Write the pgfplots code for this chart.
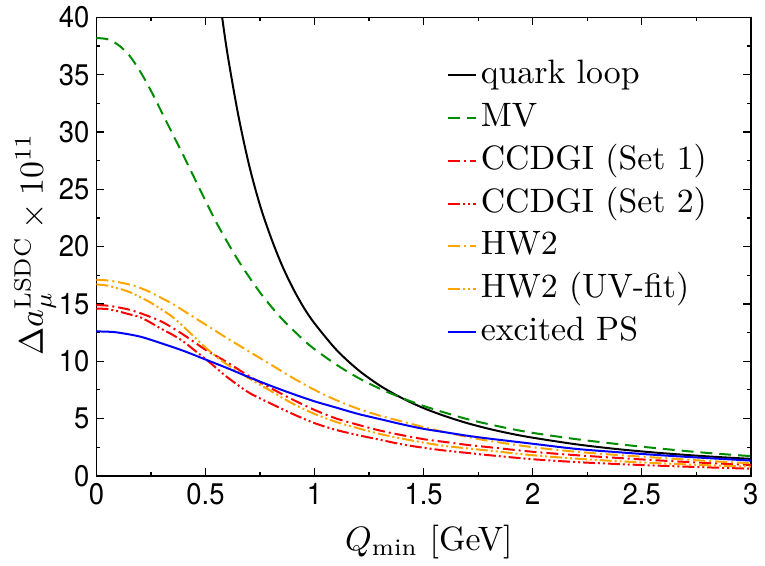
\documentclass[border=0pt]{standalone}
\usepackage{fontspec}
\usepackage{graphicx}
\usepackage{pgfplots}
\pgfplotsset{compat=1.18}
\newfontfamily\helv[FakeStretch=0.92]{TeX Gyre Heros}

\definecolor{mvgreen}{RGB}{0,140,0}
\definecolor{hworange}{RGB}{255,165,0}
\newcommand{\lbl}[1]{\scalebox{1.7}{#1}}

\begin{document}
\begin{tikzpicture}
\begin{axis}[
  scale only axis,
  width=329pt, height=230.5pt,
  xmin=0, xmax=3, ymin=0, ymax=40,
  xtick={0,0.5,...,3}, ytick={0,5,...,40},
  minor x tick num=1, minor y tick num=1,
  tick align=inside,
  major tick length=4pt, minor tick length=2pt,
  axis line style={line width=0.8pt},
  every tick/.style={black, line width=0.6pt},
  ticklabel style={font=\helv\fontsize{15}{17}\selectfont},
  /pgf/number format/assume math mode=true,
  xlabel={\lbl{$Q_{\min}$ [GeV]}},
  ylabel={\lbl{$\Delta a_\mu^{\mathrm{LSDC}}\times 10^{11}$}},
  xlabel style={at={(axis description cs:0.508,-0.145)}, anchor=center},
  ylabel style={at={(axis description cs:-0.094,0.505)}, anchor=center},
  legend cell align=left,
  legend style={at={(axis description cs:0.526,0.93)}, anchor=north west,
    draw=none, fill=none, row sep=0pt,
    nodes={text height=12pt, text depth=3.5pt, inner ysep=3pt}},
  legend image code/.code={\draw[#1] (0pt,0pt) -- (14pt,0pt);},
  every axis plot/.append style={line width=1pt, smooth},
]
% quark loop
\addplot[black] coordinates {
(0.57,40.9) (0.6,36.9) (0.65,31.5) (0.7,27.1) (0.75,23.6) (0.8,20.8)
(0.85,18.4) (0.9,16.4) (0.95,14.7) (1.0,13.3) (1.1,11.0) (1.2,9.24)
(1.3,7.87) (1.4,6.79) (1.5,5.91) (1.6,5.20) (1.7,4.60) (1.8,4.10)
(1.9,3.68) (2.0,3.33) (2.2,2.75) (2.4,2.31) (2.6,1.97) (2.8,1.70) (3.0,1.48)};
\addlegendentry{\lbl{quark loop}}
% MV
\addplot[mvgreen, dash pattern=on 6pt off 3.5pt] coordinates {
(0,38.2) (0.05,38.1) (0.1,37.6) (0.15,36.7) (0.2,35.3) (0.25,33.6)
(0.3,31.7) (0.35,29.8) (0.4,27.9) (0.45,25.95) (0.5,24.0) (0.55,22.1)
(0.6,20.4) (0.65,18.8) (0.7,17.35) (0.75,16.0) (0.8,14.8) (0.85,13.7)
(0.9,12.75) (0.95,11.85) (1.0,11.05) (1.1,9.7) (1.2,8.55) (1.3,7.6)
(1.4,6.8) (1.5,6.1) (1.6,5.5) (1.7,4.95) (1.8,4.5) (1.9,4.1)
(2.0,3.75) (2.2,3.2) (2.4,2.75) (2.6,2.35) (2.8,2.0) (3.0,1.72)};
\addlegendentry{\lbl{MV}}
% CCDGI Set 1
\addplot[red, dash pattern=on 6pt off 2pt on 1pt off 2pt] coordinates {
(0,14.9) (0.05,14.85) (0.1,14.7) (0.15,14.5) (0.2,14.2) (0.25,13.85)
(0.3,13.45) (0.35,12.9) (0.4,12.3) (0.45,11.65) (0.5,11.0) (0.55,10.45)
(0.6,9.9) (0.7,8.7) (0.8,7.65) (0.9,6.65) (1.0,5.75) (1.1,5.0)
(1.2,4.45) (1.3,3.95) (1.4,3.55) (1.5,3.2) (1.6,2.95) (1.7,2.7)
(1.8,2.5) (2.0,2.1) (2.2,1.8) (2.4,1.55) (2.6,1.32) (2.8,1.12) (3.0,0.95)};
\addlegendentry{\lbl{CCDGI (Set 1)}}
% CCDGI Set 2
\addplot[red, dash pattern=on 6pt off 1.5pt on 1pt off 1.5pt on 1pt off 1.5pt] coordinates {
(0,14.6) (0.05,14.55) (0.1,14.35) (0.15,14.1) (0.2,13.85) (0.25,13.35)
(0.3,12.8) (0.35,12.3) (0.4,11.7) (0.45,10.95) (0.5,10.2) (0.55,9.4)
(0.6,8.6) (0.7,7.25) (0.8,6.3) (0.9,5.4) (1.0,4.6) (1.1,4.0)
(1.2,3.55) (1.3,3.15) (1.4,2.75) (1.5,2.45) (1.6,2.2) (1.7,2.0)
(1.8,1.8) (2.0,1.45) (2.2,1.2) (2.4,1.02) (2.6,0.87) (2.8,0.74) (3.0,0.62)};
\addlegendentry{\lbl{CCDGI (Set 2)}}
% HW2
\addplot[hworange, dash pattern=on 6pt off 2pt on 1pt off 2pt] coordinates {
(0,17.1) (0.05,17.05) (0.1,16.9) (0.15,16.7) (0.2,16.4) (0.25,16.0)
(0.3,15.5) (0.35,15.0) (0.4,14.4) (0.45,13.8) (0.5,13.2) (0.55,12.6)
(0.6,12.0) (0.7,10.85) (0.8,9.7) (0.9,8.55) (1.0,7.5) (1.1,6.6) (1.2,5.85)
(1.3,5.25) (1.4,4.75) (1.5,4.25) (1.6,3.8) (1.7,3.4) (1.8,3.05)
(2.0,2.5) (2.2,2.1) (2.4,1.8) (2.6,1.55) (2.8,1.3) (3.0,1.1)};
\addlegendentry{\lbl{HW2}}
% HW2 UV-fit
\addplot[hworange, dash pattern=on 6pt off 1.5pt on 1pt off 1.5pt on 1pt off 1.5pt] coordinates {
(0,16.7) (0.05,16.6) (0.1,16.35) (0.15,16.05) (0.2,15.6) (0.25,15.1)
(0.3,14.5) (0.35,13.85) (0.4,13.0) (0.45,12.1) (0.5,11.2) (0.55,10.4)
(0.6,9.7) (0.7,8.5) (0.8,7.4) (0.9,6.3) (1.0,5.4) (1.1,4.7)
(1.2,4.15) (1.3,3.65) (1.4,3.25) (1.5,2.9) (1.6,2.6) (1.7,2.4)
(1.8,2.2) (2.0,1.8) (2.2,1.5) (2.4,1.27) (2.6,1.08) (2.8,0.93) (3.0,0.8)};
\addlegendentry{\lbl{HW2 (UV-fit)}}
% excited PS
\addplot[blue] coordinates {
(0,12.6) (0.05,12.58) (0.1,12.5) (0.2,12.15) (0.3,11.55) (0.4,10.9)
(0.5,10.15) (0.6,9.4) (0.7,8.6) (0.8,7.85) (0.9,7.15) (1.0,6.5)
(1.1,5.95) (1.2,5.4) (1.3,4.95) (1.4,4.5) (1.5,4.1) (1.6,3.8)
(1.7,3.5) (1.8,3.25) (2.0,2.8) (2.2,2.35) (2.4,2.05) (2.6,1.78)
(2.8,1.55) (3.0,1.33)};
\addlegendentry{\lbl{excited PS}}
\end{axis}
\useasboundingbox (-48.5pt,-41.5pt) rectangle (334pt,238.5pt);
\end{tikzpicture}
\end{document}
